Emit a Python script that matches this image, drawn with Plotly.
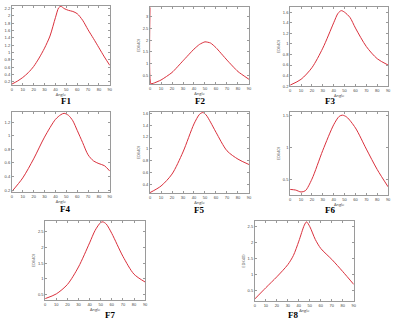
import plotly.graph_objects as go

W, H = 397, 322

# ---- data ----
f1_x = [0, 5, 10, 15, 20, 25, 30, 35, 40, 43, 45, 48, 52, 56, 60, 65, 70, 75, 80, 85, 90]
f1_y = [0.14, 0.22, 0.32, 0.45, 0.62, 0.85, 1.12, 1.45, 1.95, 2.22, 2.26, 2.2, 2.15, 2.12, 2.06, 1.88, 1.62, 1.38, 1.13, 0.88, 0.65]

f2_x = [0, 0.7, 3, 10, 20, 30, 40, 45, 50, 55, 60, 70, 80, 90]
f2_y = [3.4, 0.14, 0.16, 0.3, 0.62, 1.12, 1.62, 1.82, 1.93, 1.88, 1.68, 1.15, 0.66, 0.33]

f3_x = [0, 10, 20, 30, 40, 44, 47, 50, 55, 60, 70, 80, 90]
f3_y = [0.22, 0.33, 0.55, 0.92, 1.4, 1.58, 1.63, 1.6, 1.5, 1.3, 0.95, 0.72, 0.6]

f4_x = [0, 10, 20, 30, 40, 45, 48, 52, 56, 60, 65, 70, 75, 80, 85, 90]
f4_y = [0.18, 0.38, 0.66, 0.98, 1.24, 1.31, 1.33, 1.3, 1.22, 1.08, 0.9, 0.72, 0.63, 0.59, 0.56, 0.48]

f5_x = [0, 10, 20, 30, 40, 45, 48, 51, 55, 60, 70, 80, 90]
f5_y = [0.27, 0.38, 0.58, 0.95, 1.42, 1.58, 1.61, 1.57, 1.45, 1.28, 0.97, 0.83, 0.74]

f6_x = [0, 5, 10, 14, 20, 30, 40, 45, 48, 52, 60, 70, 80, 90]
f6_y = [0.34, 0.33, 0.3, 0.32, 0.5, 0.95, 1.35, 1.48, 1.5, 1.47, 1.3, 0.97, 0.65, 0.38]

f7_x = [0, 10, 20, 30, 40, 45, 50, 52, 55, 60, 70, 80, 90]
f7_y = [0.37, 0.52, 0.82, 1.38, 2.15, 2.55, 2.8, 2.82, 2.75, 2.45, 1.72, 1.15, 0.9]

f8_x = [0, 10, 20, 30, 35, 40, 45, 47, 50, 55, 60, 70, 80, 90]
f8_y = [0.25, 0.6, 0.94, 1.32, 1.6, 2.05, 2.55, 2.65, 2.5, 2.1, 1.82, 1.48, 1.1, 0.7]

xs = [f1_x, f2_x, f3_x, f4_x, f5_x, f6_x, f7_x, f8_x]
ys = [f1_y, f2_y, f3_y, f4_y, f5_y, f6_y, f7_y, f8_y]
labels = ["F1", "F2", "F3", "F4", "F5", "F6", "F7", "F8"]
x_ticks = [0, 10, 20, 30, 40, 50, 60, 70, 80, 90]
y_ticks = [
    [0.2, 0.4, 0.6, 0.8, 1, 1.2, 1.4, 1.6, 1.8, 2, 2.2],
    [0.5, 1, 1.5, 2, 2.5, 3],
    [0.2, 0.4, 0.6, 0.8, 1, 1.2, 1.4, 1.6],
    [0.2, 0.4, 0.6, 0.8, 1, 1.2],
    [0.4, 0.6, 0.8, 1, 1.2, 1.4, 1.6],
    [0.5, 1, 1.5],
    [0.5, 1, 1.5, 2, 2.5],
    [0.5, 1, 1.5, 2, 2.5],
]
y_ranges = [[0.11, 2.27], [0.12, 3.42], [0.2, 1.7], [0.17, 1.35], [0.26, 1.62],
            [0.25, 1.55], [0.32, 2.85], [0.18, 2.68]]
y_titles = ["", "EDI(40)", "EDI(40)", "", "EDI(40)", "EDI(40)", "EDI(40)", "EDI(40)"]

# pixel boxes: left, right, top, bottom
boxes = [(7, 107, 5, 85), (148, 249, 6, 84), (291, 391, 6, 86),
         (7, 107, 112, 193), (148, 249, 112, 194), (291, 391, 112, 196),
         (41, 143, 222, 302), (255, 356, 222, 303)]
label_pos = [(55, 101), (199, 101), (339, 101), (54, 210), (198, 211), (339, 211),
             (100, 317), (301, 317)]

fig = go.Figure()
axis_style = dict(showline=True, linecolor="#9a9a9a", linewidth=0.8, mirror="ticks",
                  ticks="inside", ticklen=2, tickcolor="#9a9a9a", tickwidth=0.6,
                  showgrid=False, zeroline=False,
                  tickfont=dict(size=4, color="#444", family="Liberation Sans"))

for i in range(8):
    n = "" if i == 0 else str(i + 1)
    l, r, t, b = boxes[i]
    fig.add_trace(go.Scatter(x=xs[i], y=ys[i], mode="lines",
                             line=dict(color="#d9303c", width=1.0, shape="spline",
                                       smoothing=0.8 if i != 1 else 0.5),
                             xaxis="x" + n, yaxis="y" + n, showlegend=False))
    fig.layout["xaxis" + n] = dict(domain=[l / W, r / W], anchor="y" + n, range=[0, 90],
                                  tickvals=x_ticks,
                                  title=dict(text="Angle", font=dict(size=4, color="#444"), standoff=0),
                                  **axis_style)
    fig.layout["yaxis" + n] = dict(domain=[1 - b / H, 1 - t / H], anchor="x" + n, range=y_ranges[i],
                                  tickvals=y_ticks[i],
                                  title=dict(text=y_titles[i], font=dict(size=4, color="#444"), standoff=2),
                                  **axis_style)
    fig.add_annotation(text="<b>" + labels[i] + "</b>", x=label_pos[i][0] / W, y=1 - label_pos[i][1] / H,
                       xref="paper", yref="paper", showarrow=False, yanchor="middle",
                       font=dict(size=9, family="Liberation Serif", color="black"))

fig.update_layout(width=W, height=H, margin=dict(l=0, r=0, t=0, b=0),
                  paper_bgcolor="white", plot_bgcolor="white")
fig.write_html("out.html")
